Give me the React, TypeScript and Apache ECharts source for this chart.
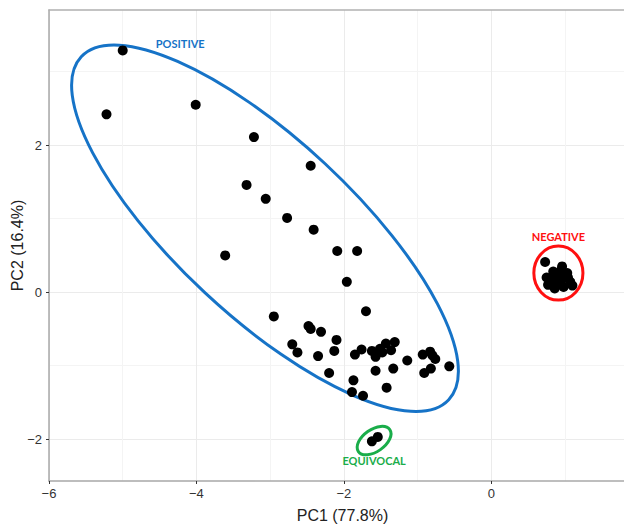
import React, { useEffect, useRef } from 'react';
import * as echarts from 'echarts';

const X_TICKS = [-6, -4, -2, 0];
const X_MINOR = [-5, -3, -1, 1];
const Y_TICKS = [-2, 0, 2];
const Y_MINOR = [-1, 1, 3];

const POS_X = [-5.0, -5.22, -4.01, -3.22, -2.45, -3.32, -3.06, -2.77, -2.41, -2.09, -1.82, -3.61, -1.96, -1.7, -2.95, -2.48, -2.45, -2.31, -2.1, -2.7, -2.63, -2.13, -2.35, -2.2, -1.85, -1.76, -1.62, -1.57, -1.51, -1.43, -1.36, -1.31, -1.48, -1.14, -1.57, -1.33, -1.87, -1.42, -1.89, -1.74, -0.93, -0.83, -0.8, -0.76, -0.57, -0.82, -0.91];
const POS_Y = [3.29, 2.42, 2.55, 2.11, 1.72, 1.46, 1.27, 1.01, 0.85, 0.56, 0.56, 0.5, 0.14, -0.26, -0.33, -0.46, -0.5, -0.54, -0.65, -0.71, -0.82, -0.8, -0.87, -1.1, -0.85, -0.78, -0.8, -0.88, -0.77, -0.7, -0.79, -0.68, -0.82, -0.93, -1.07, -1.04, -1.2, -1.3, -1.36, -1.41, -0.85, -0.81, -0.86, -0.91, -1.01, -1.04, -1.1];

const NEG_X = [0.73, 0.84, 0.96, 1.03, 1.07, 0.75, 0.8, 0.91, 0.98, 1.1, 0.87, 0.98, 1.04, 0.91, 0.77, 0.86, 0.95];
const NEG_Y = [0.41, 0.28, 0.35, 0.26, 0.14, 0.2, 0.14, 0.12, 0.07, 0.09, 0.19, 0.19, 0.2, 0.23, 0.1, 0.05, 0.3];

const EQU_X = [-1.62, -1.54];
const EQU_Y = [-2.03, -1.97];

const GROUP_NAMES = ['POSITIVE', 'NEGATIVE', 'EQUIVOCAL'];

// annotation geometry (data units), angle in degrees, positive = anticlockwise
const ANNOTATIONS = [
  { cx: -3.07, cy: 0.87, rx: 3.41, ry: 1.2, angle: -43, color: '#1673c7', lx: -4.22, ly: 3.38 },
  { cx: 0.91, cy: 0.26, rx: 0.333, ry: 0.368, angle: 0, color: '#ff1010', lx: 0.91, ly: 0.76 },
  { cx: -1.59, cy: -2.02, rx: 0.26, ry: 0.15, angle: 35, color: '#1aad4a', lx: -1.59, ly: -2.29 },
];

const zip = (xs: number[], ys: number[]) => xs.map((x, i) => [x, ys[i]]);
const minus = (v: number) => String(v).replace('-', '\u2212');

export default function App() {
  const ref = useRef<HTMLDivElement>(null);
  useEffect(() => {
    if (!ref.current) return;
    const chart = echarts.init(ref.current, undefined, { renderer: 'svg' });
    const axisLineColor = '#a8a8a8';
    const labelStyle = { color: '#333', fontSize: 13, fontFamily: 'Liberation Sans, Arial, sans-serif', formatter: minus };
    const nameStyle = { color: '#222', fontSize: 16, fontFamily: 'Liberation Sans, Arial, sans-serif' };
    const pointSeries = (data: number[][], name: string) => ({
      type: 'scatter',
      name,
      xAxisIndex: 0,
      yAxisIndex: 0,
      data,
      symbol: 'circle',
      symbolSize: 10,
      itemStyle: { color: '#000', opacity: 1 },
      silent: true,
    });
    chart.setOption({
      animation: false,
      backgroundColor: '#fff',
      grid: { left: 49, right: 0, top: 10, bottom: 45, containLabel: false, outerBoundsMode: 'none' },
      xAxis: [
        {
          type: 'value', min: -6, max: 1.8, position: 'bottom',
          name: 'PC1 (77.8%)', nameLocation: 'middle', nameGap: 26, nameMoveOverlap: false,
          nameTextStyle: { ...nameStyle, padding: [0, 0, 0, 12] },
          axisLine: { show: true, onZero: false, lineStyle: { color: axisLineColor, width: 1.5 } },
          axisTick: { show: true, customValues: X_TICKS, length: 3, lineStyle: { color: '#333' } },
          axisLabel: { show: true, customValues: X_TICKS, margin: 6, ...labelStyle },
          splitLine: { show: true, lineStyle: { color: '#ebebeb', width: 1 } },
        },
        {
          type: 'value', min: -6, max: 1.8, position: 'top',
          axisLine: { show: true, onZero: false, lineStyle: { color: '#b0b0b0', width: 1.5 } },
          axisTick: { show: false, customValues: X_MINOR },
          axisLabel: { show: false, customValues: X_MINOR },
          splitLine: { show: true, lineStyle: { color: '#f4f4f4', width: 1 } },
        },
      ],
      yAxis: [
        {
          type: 'value', min: -2.57, max: 3.84, position: 'left',
          name: 'PC2 (16.4%)', nameLocation: 'middle', nameGap: 24, nameMoveOverlap: false,
          nameTextStyle: nameStyle,
          axisLine: { show: true, onZero: false, lineStyle: { color: axisLineColor, width: 1.5 } },
          axisTick: { show: true, customValues: Y_TICKS, length: 3, lineStyle: { color: '#333' } },
          axisLabel: { show: true, customValues: Y_TICKS, margin: 7, ...labelStyle },
          splitLine: { show: true, lineStyle: { color: '#ebebeb', width: 1 } },
        },
        {
          type: 'value', min: -2.57, max: 3.84, position: 'left',
          axisLine: { show: false, onZero: false },
          axisTick: { show: false, customValues: Y_MINOR },
          axisLabel: { show: false, customValues: Y_MINOR },
          splitLine: { show: true, lineStyle: { color: '#f4f4f4', width: 1 } },
        },
      ],
      series: [
        pointSeries(zip(POS_X, POS_Y), GROUP_NAMES[0]),
        pointSeries(zip(NEG_X, NEG_Y), GROUP_NAMES[1]),
        pointSeries(zip(EQU_X, EQU_Y), GROUP_NAMES[2]),
      ],
    });

    const o = chart.convertToPixel({ gridIndex: 0 }, [0, 0]) as number[];
    const u = chart.convertToPixel({ gridIndex: 0 }, [1, 1]) as number[];
    const sx = u[0] - o[0];
    const sy = o[1] - u[1];
    const graphics: any[] = [];
    ANNOTATIONS.forEach((a, i) => {
      const c = chart.convertToPixel({ gridIndex: 0 }, [a.cx, a.cy]) as number[];
      const l = chart.convertToPixel({ gridIndex: 0 }, [a.lx, a.ly]) as number[];
      graphics.push({
        type: 'ellipse',
        x: c[0], y: c[1],
        rotation: (a.angle * Math.PI) / 180,
        shape: { cx: 0, cy: 0, rx: a.rx * sx, ry: a.ry * sy },
        style: { fill: 'none', stroke: a.color, lineWidth: 3 },
        silent: true,
      });
      graphics.push({
        type: 'text',
        x: l[0], y: l[1],
        style: {
          text: GROUP_NAMES[i],
          fill: a.color,
          font: 'bold 11px Lato, "Open Sans", sans-serif',
          align: 'center', verticalAlign: 'middle',
          textAlign: 'center', textVerticalAlign: 'middle',
        },
        silent: true,
      });
    });
    chart.setOption({ graphic: graphics });
    return () => chart.dispose();
  }, []);
  return (
    <div
      ref={ref}
      style={{ position: 'fixed', left: 0, top: 0, width: 624, height: 526, background: '#fff' }}
    />
  );
}
